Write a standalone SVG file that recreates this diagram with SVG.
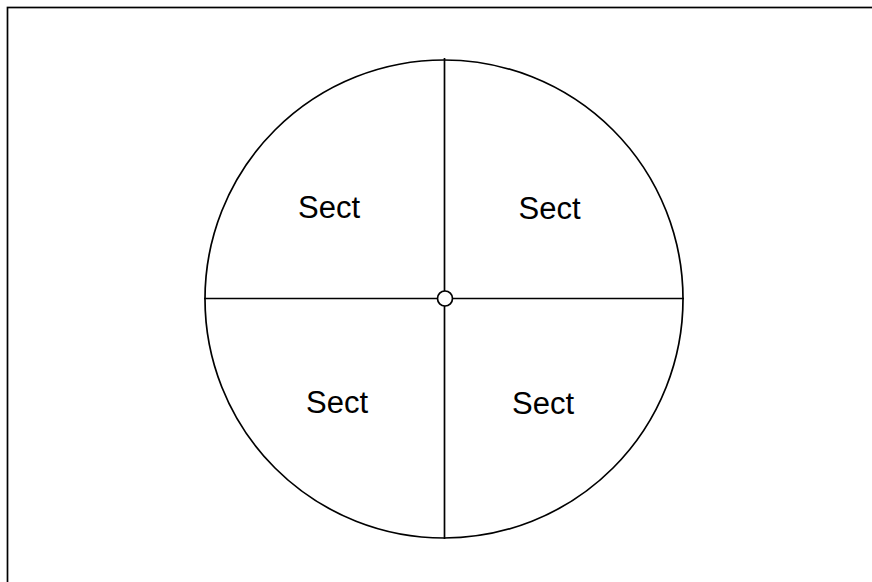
<svg xmlns="http://www.w3.org/2000/svg" width="872" height="582" viewBox="0 0 872 582">
<style>
.ln{stroke:#000;stroke-width:1.7;fill:none}
.lbl{font-family:"Liberation Sans",Arial,sans-serif;font-size:31px;fill:#000;text-anchor:middle}
</style>
<rect x="0" y="0" width="872" height="582" fill="#fff"/>
<rect x="7.5" y="7.5" width="880" height="600" class="ln"/>
<g id="wheel">
<circle cx="444" cy="299" r="239" class="ln"/>
</g>
<g id="connectors">
<line x1="444.5" y1="58" x2="444.5" y2="539" class="ln"/>
<line x1="204" y1="298.5" x2="684" y2="298.5" class="ln"/>
</g>
<g id="hub">
<circle cx="445" cy="298.5" r="7.5" class="ln" style="fill:#fff"/>
</g>
<g id="sect1"><text x="329" y="217.5" class="lbl">Sect</text></g>
<g id="sect2"><text x="549.5" y="218.5" class="lbl">Sect</text></g>
<g id="sect3"><text x="337" y="412.5" class="lbl">Sect</text></g>
<g id="sect4"><text x="543" y="413.5" class="lbl">Sect</text></g>
</svg>
